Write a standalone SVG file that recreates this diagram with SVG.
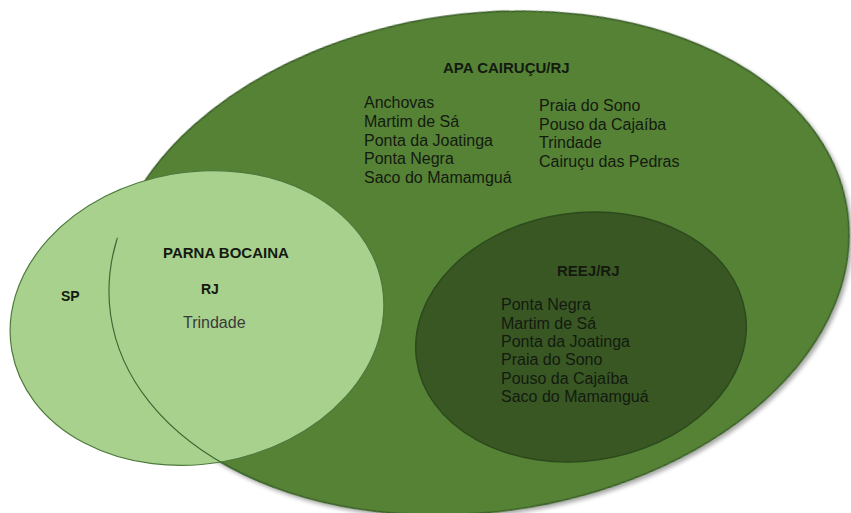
<svg xmlns="http://www.w3.org/2000/svg" width="851" height="513" viewBox="0 0 851 513">
  <defs>
    <filter id="shadow" x="-10%" y="-10%" width="120%" height="120%">
      <feGaussianBlur in="SourceAlpha" stdDeviation="2"/>
      <feOffset dx="2" dy="3" result="b"/>
      <feComponentTransfer><feFuncA type="linear" slope="0.35"/></feComponentTransfer>
      <feMerge><feMergeNode/><feMergeNode in="SourceGraphic"/></feMerge>
    </filter>
    <clipPath id="clipParna">
      <ellipse cx="197" cy="318" rx="188" ry="146" transform="rotate(-10 197 318)"/>
    </clipPath>
  </defs>
  <style>
    text { font-family: "Liberation Sans", Arial, sans-serif; fill: #141a10; }
    .t { font-size: 15px; font-weight: bold; }
    .l { font-size: 16px; }
    .apa { fill: #548235; stroke: #3b5e27; stroke-width: 1.5; }
    .parna { fill: #a9d18e; stroke: #4d7a3c; stroke-width: 1.2; }
    .reej { fill: #385723; stroke: #2c4a1c; stroke-width: 1.5; }
    .edge { fill: none; stroke: #3e6a33; stroke-width: 1.2; }
  </style>
  <rect width="851" height="513" fill="#ffffff"/>

  <g id="apa">
    <ellipse class="apa" cx="479" cy="263" rx="372" ry="249" transform="rotate(-8 479 263)" filter="url(#shadow)"/>
    <text class="t" x="443" y="73">APA CAIRUÇU/RJ</text>
    <text class="l" x="364" y="108">Anchovas</text>
    <text class="l" x="364" y="127">Martim de Sá</text>
    <text class="l" x="364" y="145.5">Ponta da Joatinga</text>
    <text class="l" x="364" y="164">Ponta Negra</text>
    <text class="l" x="364" y="182.5">Saco do Mamamguá</text>
    <text class="l" x="539" y="111">Praia do Sono</text>
    <text class="l" x="539" y="129.5">Pouso da Cajaíba</text>
    <text class="l" x="539" y="148">Trindade</text>
    <text class="l" x="539" y="166.5">Cairuçu das Pedras</text>
  </g>

  <g id="parna">
    <ellipse class="parna" cx="197" cy="318" rx="188" ry="146" transform="rotate(-10 197 318)"/>
    <ellipse class="edge" cx="479" cy="263" rx="372" ry="249" transform="rotate(-8 479 263)" clip-path="url(#clipParna)"/>
    <text class="t" x="163" y="258">PARNA BOCAINA</text>
    <text class="t" x="201" y="294" style="font-size:14px">RJ</text>
    <text class="l" x="183" y="328" style="fill:#3a3a3a">Trindade</text>
    <text class="t" x="61" y="301" style="font-size:14px">SP</text>
  </g>

  <g id="reej">
    <ellipse class="reej" cx="581" cy="337" rx="166" ry="124" transform="rotate(-8 581 337)"/>
    <text class="t" x="557" y="276">REEJ/RJ</text>
    <text class="l" x="501" y="310">Ponta Negra</text>
    <text class="l" x="501" y="328.5">Martim de Sá</text>
    <text class="l" x="501" y="347">Ponta da Joatinga</text>
    <text class="l" x="501" y="365">Praia do Sono</text>
    <text class="l" x="501" y="383.5">Pouso da Cajaíba</text>
    <text class="l" x="501" y="402">Saco do Mamamguá</text>
  </g>

  <g id="connectors"></g>
</svg>
